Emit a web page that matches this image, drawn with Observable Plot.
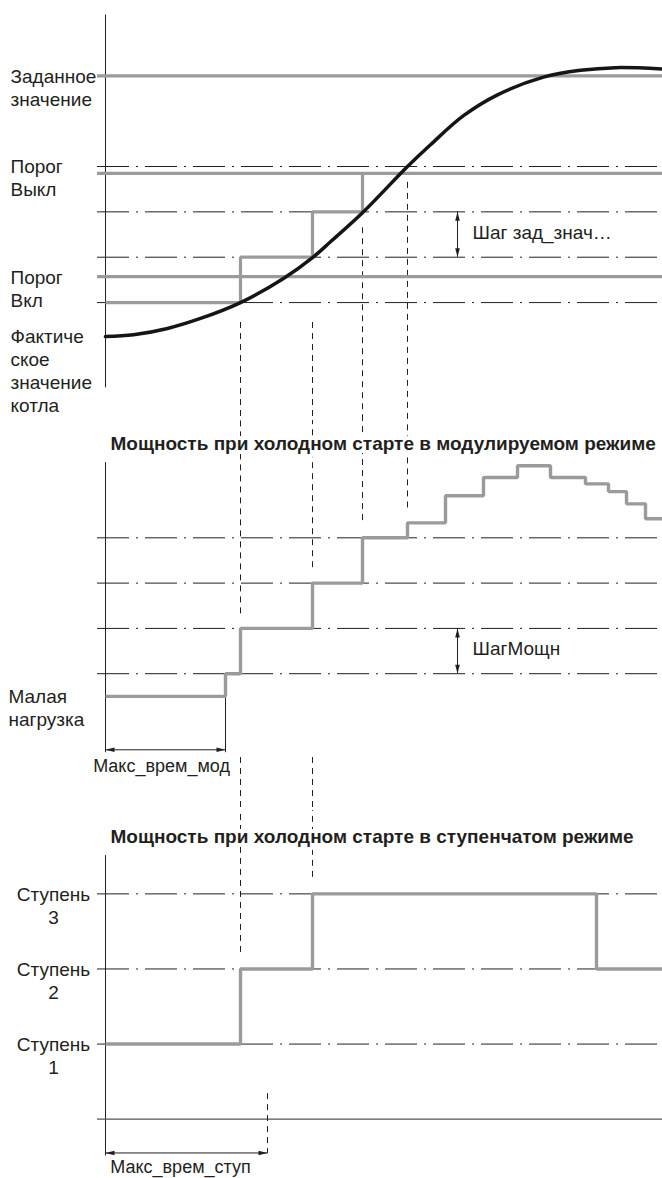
<!DOCTYPE html>
<html><head><meta charset="utf-8">
<script src="https://cdn.jsdelivr.net/npm/d3@7"></script>
<script src="https://cdn.jsdelivr.net/npm/@observablehq/plot@0.6"></script>
<style>
body{margin:0;background:#fff;}
#chart{width:662px;}
#chart svg{display:block;}
</style></head><body><div id="chart"></div>
<script>
// ---------- shared time axis (arbitrary time units, 0 = start) ----------
const timeMax = 55.7;
const crossTimes = [13.5, 20.7, 25.7, 30.2];      // moments the actual value crosses a setpoint step

// ---------- panel 1: boiler setpoint / actual value ----------
const setpointSteps = [0, 1, 2, 3];               // dash-dot setpoint increments
const setpointValue = 5;
const offThreshold = 2.85;
const onThreshold = 0.57;
const actualTime  = [0, 2.8, 6.2, 9.5, 13.5, 17.8, 20.7, 22.5, 25.7, 30.2, 32.5, 35.8, 39.2, 43.8, 47.5, 51, 55.7];
const actualValue = [-0.75, -0.71, -0.57, -0.35, 0, 0.53, 0.99, 1.34, 1.98, 3.0, 3.48, 4.12, 4.58, 4.97, 5.12, 5.18, 5.15];
const rampTime  = [0, 13.5, 20.7, 25.7];
const rampValue = [0, 1, 2, 2.85];
const panel1Labels = ["Заданное\nзначение", "Порог\nВыкл", "Порог\nВкл", "Фактиче\nское\nзначение\nкотла"];
const panel1LabelValues = [5, 3, 0.57, -0.75];
const crossStartValue = [-0.44, -0.44, 1.65, 2.65];
const setpointStepLabel = "Шаг зад_знач…";
const stepArrowTime = 35.2;

// ---------- panel 2: modulating power ----------
const panel2Title = "Мощность при холодном старте в модулируемом режиме";
const powerSteps = [1, 2, 3, 4];
const modTime  = [0, 12, 13.5, 20.7, 25.7, 30.2, 34, 37.8, 41.2, 44.5, 48, 50.3, 52.1, 54, 55.7];
const modPower = [0.5, 1, 2, 3, 4, 4.33, 4.93, 5.33, 5.59, 5.33, 5.19, 5.02, 4.75, 4.42, 4.42];
const lowLoadLabel = "Малая\nнагрузка";
const lowLoad = 0.5;
const crossEndPower = [2.32, 3.34, 4.38, 4.66];
const maxModTime = 12;
const maxModLabel = "Макс_врем_мод";
const powerStepLabel = "ШагМощн";

// ---------- panel 3: staged power ----------
const panel3Title = "Мощность при холодном старте в ступенчатом режиме";
const stageLevels = [1, 2, 3];
const stageLabels = ["Ступень\n1", "Ступень\n2", "Ступень\n3"];
const stageTime  = [0, 13.5, 20.7, 49.1, 55.7];
const stageValue = [1, 2, 3, 2, 2];
const crossEndStage = [2.22, 3.22];
const maxStageTime = 16.2;
const maxStageLabel = "Макс_врем_ступ";

// ---------- styling ----------
const INK = "#231f20", GRAY = "#9b9b9b";
const DASHDOT = "32,7,2,7", DASHED = "6,5";
const FONT = "'Liberation Sans', Arial, Helvetica, sans-serif";
const lineStart = -0.8, dashEnd = 55.2;
const arrowHead = {draw(ctx) { ctx.moveTo(0, 0); ctx.lineTo(-2.3, 9); ctx.lineTo(2.3, 9); ctx.closePath(); }};

function panel(height, yDomain, marks) {
  return Plot.plot({
    width: 662, height,
    marginLeft: 105, marginRight: 0, marginTop: 0, marginBottom: 0,
    style: {fontFamily: FONT, color: INK, background: "white", overflow: "visible"},
    x: {domain: [0, timeMax], axis: null},
    y: {domain: yDomain, axis: null},
    marks
  });
}
const zip = (a, b) => a.map((x, i) => ({x, y: b[i]}));
function doubleArrowV(t, y1, y2) {
  return [
    Plot.ruleX([t], {y1, y2, stroke: INK, strokeWidth: 1}),
    Plot.dot([{y: y2, rot: 0}, {y: y1, rot: 180}], {x: () => t, y: "y", rotate: "rot", symbol: arrowHead, fill: INK, stroke: "none"})
  ];
}
function doubleArrowH(y, t1, t2) {
  return [
    Plot.ruleY([y], {x1: t1, x2: t2, stroke: INK, strokeWidth: 1}),
    Plot.dot([{x: t1, rot: -90}, {x: t2, rot: 90}], {x: "x", y: () => y, rotate: "rot", symbol: arrowHead, fill: INK, stroke: "none"})
  ];
}
const labelOpts = {frameAnchor: "left", dx: -95, textAnchor: "start", lineAnchor: "top", dy: -9.5, fontSize: 19, lineHeight: 1.21, fill: INK};
const titleOpts = {frameAnchor: "top-left", dx: 5, textAnchor: "start", lineAnchor: "bottom", fontSize: 19, fontWeight: "bold",
  fill: INK, stroke: "white", strokeWidth: 8, paintOrder: "stroke"};

// ---------- panel 1 ----------
const y1Dom = [-2.6, 6.66];
const p1 = panel(420, y1Dom, [
  Plot.ruleX([0], {y1: -1.88, y2: 6.34, stroke: INK, strokeWidth: 1}),
  Plot.ruleY(setpointSteps, {x1: lineStart, x2: dashEnd, stroke: INK, strokeWidth: 1, strokeDasharray: DASHDOT}),
  Plot.ruleX(zip(crossTimes, crossStartValue), {x: "x", y1: "y", y2: y1Dom[0], stroke: INK, strokeWidth: 1, strokeDasharray: DASHED}),
  Plot.ruleY([setpointValue, offThreshold, onThreshold], {x1: lineStart, x2: timeMax, stroke: GRAY, strokeWidth: 3.2}),
  Plot.line(zip(rampTime, rampValue), {x: "x", y: "y", curve: "step-after", stroke: GRAY, strokeWidth: 3.2, strokeLinejoin: "miter", strokeLinecap: "butt"}),
  Plot.line(zip(actualTime, actualValue), {x: "x", y: "y", curve: "catmull-rom", stroke: "#151515", strokeWidth: 3.5}),
  ...doubleArrowV(stepArrowTime, 1, 2),
  Plot.text([setpointStepLabel], {text: d => d, x: () => stepArrowTime, y: () => 1.5, dx: 15, dy: -2, textAnchor: "start", lineAnchor: "middle", fontSize: 19, fill: INK}),
  Plot.text(panel1Labels, {...labelOpts, text: d => d, y: (d, i) => panel1LabelValues[i]})
]);

// ---------- panel 2 ----------
const y2Dom = [-2.02, 6.59];
const p2 = panel(390, y2Dom, [
  Plot.ruleX([0], {y1: -0.744, y2: 5.66, stroke: INK, strokeWidth: 1}),
  Plot.ruleY(powerSteps, {x1: lineStart, x2: dashEnd, stroke: INK, strokeWidth: 1, strokeDasharray: DASHDOT}),
  Plot.ruleX(zip(crossTimes, crossEndPower), {x: "x", y1: "y", y2: y2Dom[1], stroke: INK, strokeWidth: 1, strokeDasharray: DASHED}),
  Plot.ruleX(crossTimes.slice(0, 2), {y1: -0.85, y2: y2Dom[0], stroke: INK, strokeWidth: 1, strokeDasharray: DASHED}),
  Plot.ruleX([maxModTime], {y1: lowLoad, y2: -0.744, stroke: INK, strokeWidth: 1}),
  ...doubleArrowH(-0.68, 0, maxModTime),
  Plot.text([maxModLabel], {text: d => d, x: () => maxModTime / 2, y: () => -0.68, dx: -4, dy: 9, textAnchor: "middle", lineAnchor: "top", fontSize: 18, fill: INK}),
  Plot.line(zip(modTime, modPower), {x: "x", y: "y", curve: "step-after", stroke: GRAY, strokeWidth: 3.4, strokeLinejoin: "miter", strokeLinecap: "butt"}),
  ...doubleArrowV(stepArrowTime, 1, 2),
  Plot.text([powerStepLabel], {text: d => d, x: () => stepArrowTime, y: () => 1.5, dx: 15, dy: -2, textAnchor: "start", lineAnchor: "middle", fontSize: 19, fill: INK}),
  Plot.text([lowLoadLabel], {...labelOpts, text: d => d, y: () => lowLoad, dx: -97}),
  Plot.text([panel2Title], {...titleOpts, text: d => d, dy: 29})
]);

// ---------- panel 3 ----------
const y3Dom = [-0.79, 4.11];
const p3 = panel(368, y3Dom, [
  Plot.ruleX([0], {y1: -0.49, y2: 3.51, stroke: INK, strokeWidth: 1}),
  Plot.ruleY(stageLevels, {x1: lineStart, x2: dashEnd, stroke: INK, strokeWidth: 1, strokeDasharray: DASHDOT}),
  Plot.ruleY([0], {x1: lineStart, x2: timeMax, stroke: "#555", strokeWidth: 1.2}),
  Plot.ruleX(zip(crossTimes.slice(0, 2), crossEndStage), {x: "x", y1: "y", y2: y3Dom[1], stroke: INK, strokeWidth: 1, strokeDasharray: DASHED}),
  Plot.ruleX([maxStageTime], {y1: 0.34, y2: -0.46, stroke: INK, strokeWidth: 1, strokeDasharray: DASHED}),
  ...doubleArrowH(-0.45, 0, maxStageTime),
  Plot.text([maxStageLabel], {text: d => d, x: () => maxStageTime / 2, y: () => -0.45, dx: -6, dy: 7, textAnchor: "middle", lineAnchor: "top", fontSize: 18, fill: INK}),
  Plot.line(zip(stageTime, stageValue), {x: "x", y: "y", curve: "step-after", stroke: GRAY, strokeWidth: 3.4, strokeLinejoin: "miter", strokeLinecap: "butt"}),
  Plot.text(stageLabels, {...labelOpts, text: d => d, y: (d, i) => stageLevels[i], dx: -52, textAnchor: "middle"}),
  Plot.text([panel3Title], {...titleOpts, text: d => d, dy: 32})
]);

const chart = document.getElementById("chart");
chart.append(p1, p2, p3);
</script>
</body></html>
